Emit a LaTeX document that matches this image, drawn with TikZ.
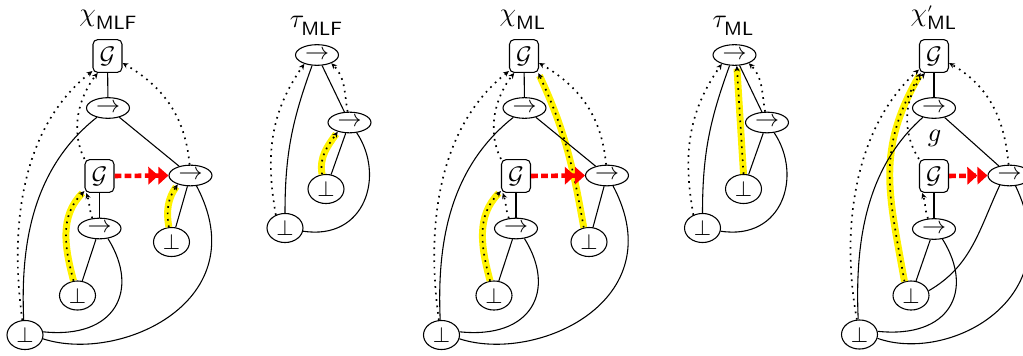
\documentclass[tikz,border=0pt]{standalone}
\usetikzlibrary{shapes.geometric,arrows.meta}
\begin{document}
\begin{tikzpicture}[x=0.41667pt,y=-0.41667pt,line width=0.45pt,
  arrn/.style={ellipse,draw,minimum width=17.9pt,minimum height=8.6pt,inner sep=0pt},
  botn/.style={ellipse,draw,minimum width=15pt,minimum height=12.1pt,inner sep=0pt,font=\small},
  gbox/.style={rectangle,rounded corners=2pt,draw,minimum width=12.1pt,minimum height=13.7pt,inner sep=0pt},
  ttl/.style={anchor=base,font=\fontsize{11}{13}\selectfont,inner sep=0pt},
  ptr/.style={line width=0.7pt,dash pattern=on 0.7pt off 2pt,-{Stealth[length=2.4pt,width=2.2pt]}},
  hl/.style={preaction={draw=yellow,solid,line width=2.9pt,-,shorten >=1.2pt}},
  redarr/.style={draw=red,line width=1.9pt,dash pattern=on 2.8pt off 1.4pt,-{Triangle[length=4.2pt,width=7.2pt]Triangle[length=4.2pt,width=7.2pt]}}
]
\useasboundingbox (0,0) rectangle (1023,356);
\clip (0,0) rectangle (1023,356);

% ---------- graph 1 : chi_MLF ----------
\node[ttl] (ta) at (108.5,21.5) {$\chi^{}_{\mathsf{MLF}}$};
\node[gbox] (aG1) at (107.5,56) {$\mathcal{G}$};
\node[arrn] (aA1) at (108,108) {$\to$};
\node[gbox] (aG2) at (99.5,176) {$\mathcal{G}$};
\node[arrn] (aA2) at (190.5,175.5) {$\to$};
\node[arrn] (aA3) at (99.5,228.5) {$\to$};
\node[botn] (aB1) at (171.5,242) {$\bot$};
\node[botn] (aB2) at (77.5,295.5) {$\bot$};
\node[botn] (aB3) at (25,335) {$\bot$};
\draw[ptr,hl] (aB2) to[out=105,in=225] (aG2.225);
\draw[ptr,hl] (aB1.100) to[out=100,in=235] (aA2.215);
\draw (aG1) -- (aA1);
\draw (aA1) -- (aA2);
\draw (aA1.220) .. controls +(-67,53) and +(-3,-70) .. (aB3.95);
\draw (aG2) -- (aA3);
\draw (aA3) -- (aB2);
\draw (aA3.-50) .. controls +(32.5,52) and +(72,7.5) .. (aB3.10);
\draw (aA2) -- (aB1);
\draw (aA2.-60) .. controls +(61,115) and +(77,25) .. (aB3.-12);
\draw[ptr] (aB3.100) .. controls +(-14,-100) and +(-68,54) .. (aG1.225);
\draw[ptr] (aG2.north west) .. controls +(-15,-29.5) and +(-18,22.5) .. (aG1.240);
\draw[ptr] (aA2.95) to[out=95,in=-30] (aG1.-25);
\draw[ptr] (aA3.125) to[out=110,in=-70] (aG2.232);
\draw[redarr] (aG2.east) -- (aA2.west);

% ---------- graph 2 : tau_MLF ----------
\node[ttl] (tb) at (316.5,27.5) {$\tau^{}_{\mathsf{MLF}}$};
\node[arrn] (bAt) at (317,55) {$\to$};
\node[arrn] (bAm) at (349.5,122.5) {$\to$};
\node[botn] (bBm) at (326,189) {$\bot$};
\node[botn] (bBb) at (285,228) {$\bot$};
\draw[ptr,hl] (bBm.105) to[out=100,in=235] (bAm.218);
\draw (bAt) -- (bAm);
\draw (bAt.245) to[out=250,in=90] (bBb.90);
\draw (bAm) -- (bBm);
\draw (bAm.-55) .. controls +(28.6,42.6) and +(62.3,9.5) .. (bBb.-10);
\draw[ptr] (bBb.125) to[out=100,in=235] (bAt.215);
\draw[ptr] (bAm.100) to[out=100,in=-45] (bAt.-30);

% ---------- graph 3 : chi_ML ----------
\begin{scope}[shift={(416.5,0)}]
\node[ttl] (tc) at (106.5,21.5) {$\chi^{}_{\mathsf{ML}}$};
\node[gbox] (cG1) at (107.5,56) {$\mathcal{G}$};
\node[arrn] (cA1) at (108,108) {$\to$};
\node[gbox] (cG2) at (99.5,176) {$\mathcal{G}$};
\node[arrn] (cA2) at (190.5,175.5) {$\to$};
\node[arrn] (cA3) at (99.5,228.5) {$\to$};
\node[botn] (cB1) at (172.5,242) {$\bot$};
\node[botn] (cB2) at (77.5,295.5) {$\bot$};
\node[botn] (cB3) at (25,335) {$\bot$};
\draw[ptr,hl] (cB2) to[out=105,in=225] (cG2.225);
\draw[ptr,hl] (cB1.110) to[out=100,in=-65] (cG1.-50);
\draw (cG1) -- (cA1);
\draw (cA1) -- (cA2);
\draw (cA1.220) .. controls +(-67,53) and +(-3,-70) .. (cB3.95);
\draw (cG2) -- (cA3);
\draw (cA3) -- (cB2);
\draw (cA3.-50) .. controls +(32.5,52) and +(72,7.5) .. (cB3.10);
\draw (cA2) -- (cB1);
\draw (cA2.-60) .. controls +(61,115) and +(77,25) .. (cB3.-12);
\draw[ptr] (cB3.100) .. controls +(-14,-100) and +(-68,54) .. (cG1.225);
\draw[ptr] (cG2.north west) .. controls +(-15,-29.5) and +(-18,22.5) .. (cG1.240);
\draw[ptr] (cA2.95) to[out=95,in=-30] (cG1.-25);
\draw[ptr] (cA3.125) to[out=110,in=-70] (cG2.232);
\draw[redarr] (cG2.east) -- (cA2.west);
\end{scope}

% ---------- graph 4 : tau_ML ----------
\begin{scope}[shift={(417.5,0)}]
\node[ttl] (td) at (316,27.5) {$\tau^{}_{\mathsf{ML}}$};
\node[arrn] (dAt) at (317,55) {$\to$};
\node[arrn] (dAm) at (349.5,122.5) {$\to$};
\node[botn] (dBm) at (326,189) {$\bot$};
\node[botn] (dBb) at (285,228) {$\bot$};
\draw[ptr,hl] (dBm.north) -- (dAt.-78);
\draw (dAt) -- (dAm);
\draw (dAt.245) to[out=250,in=90] (dBb.90);
\draw (dAm) -- (dBm);
\draw (dAm.-55) .. controls +(28.6,42.6) and +(62.3,9.5) .. (dBb.-10);
\draw[ptr] (dBb.125) to[out=100,in=235] (dAt.215);
\draw[ptr] (dAm.100) to[out=100,in=-45] (dAt.-30);
\end{scope}

% ---------- graph 5 : chi'_ML ----------
\node[ttl] (te) at (934,22) {$\chi^{\scriptscriptstyle\prime}_{\mathsf{ML}}$};
\node[gbox] (eG1) at (934,56) {$\mathcal{G}$};
\node[arrn] (eA1) at (934,108) {$\to$};
\node[font=\fontsize{11}{13}\selectfont] (eg) at (934.5,138.5) {$g$};
\node[gbox] (eG2) at (934,176) {$\mathcal{G}$};
\node[arrn] (eA2) at (1009.5,175.5) {$\to$};
\node[arrn] (eA3) at (934,229) {$\to$};
\node[botn] (eB2) at (911,295.5) {$\bot$};
\node[botn] (eB3) at (859.5,334.5) {$\bot$};
\draw[ptr,hl] (eB2.115) to[out=100,in=240,looseness=1.1] (eG1.232);
\draw (eG1) -- (eA1);
\draw (eA1) -- (eA2);
\draw (eA1.220) .. controls +(-60,53) and +(-3,-70) .. (eB3.95);
\draw (eG2) -- (eA3);
\draw (eA3) -- (eB2);
\draw (eA3.-50) .. controls +(32.5,52) and +(72,7.5) .. (eB3.10);
\draw (eA2.225) to[out=245,in=30] (eB2.15);
\draw (eA2.-60) .. controls +(55,115) and +(70,25) .. (eB3.-12);
\draw[ptr] (eB3.100) .. controls +(-18,-100) and +(-60,54) .. (eG1.222);
\draw[ptr] (eG2.north west) .. controls +(-19,-29.5) and +(-19.4,22.5) .. (eG1.242);
\draw[ptr] (eA2.95) to[out=95,in=-30] (eG1.-25);
\draw[ptr] (eA3.120) to[out=110,in=-70] (eG2.235);
\draw[redarr] (eG2.east) -- (eA2.west);
\end{tikzpicture}
\end{document}
